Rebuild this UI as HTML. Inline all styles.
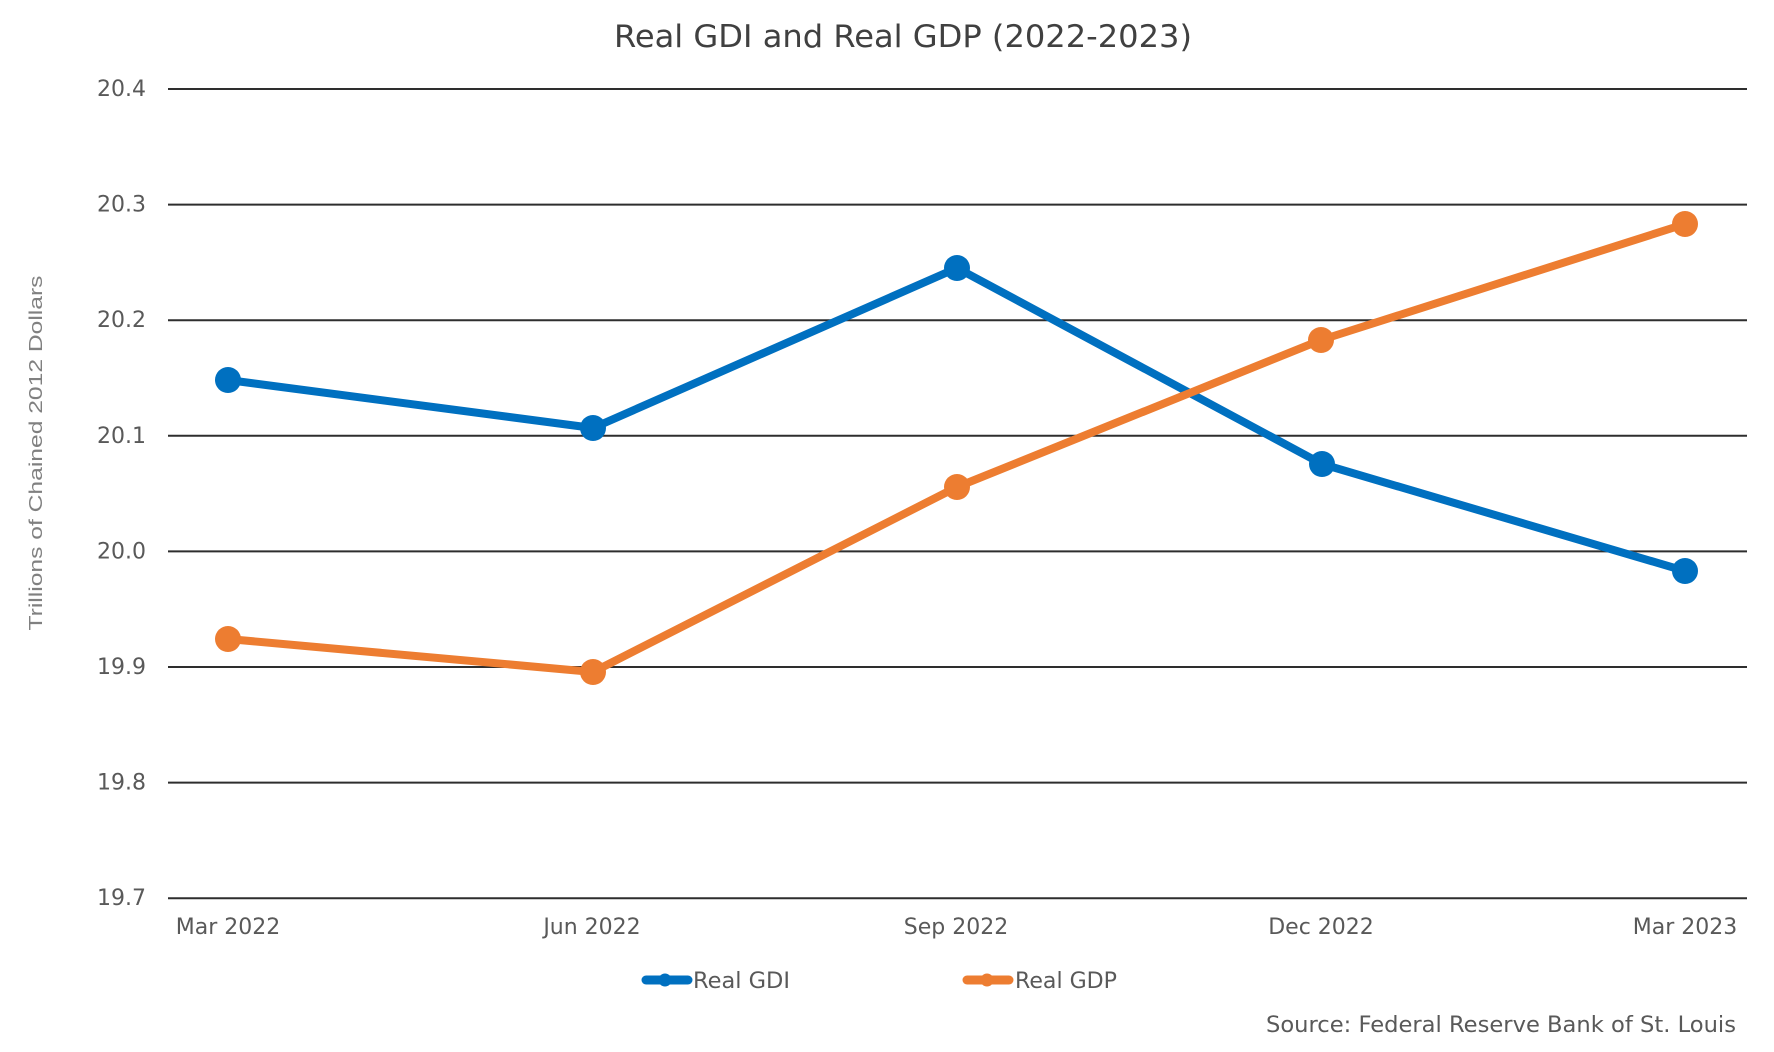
<!DOCTYPE html>
<html>
<head>
<meta charset="utf-8">
<style>
  html, body { margin: 0; padding: 0; background: #ffffff; }
  body { width: 1774px; height: 1052px; overflow: hidden; }
  svg { display: block; }
  .tick { font-family: "DejaVu Sans", "Liberation Sans", sans-serif; font-size: 22px; fill: #595959; }
</style>
</head>
<body>
<svg width="1774" height="1052" viewBox="0 0 1774 1052" xmlns="http://www.w3.org/2000/svg">
  <rect x="0" y="0" width="1774" height="1052" fill="#ffffff"/>

  <!-- Title -->
  <text x="903" y="47" text-anchor="middle" font-family="DejaVu Sans, Liberation Sans, sans-serif" font-size="31" fill="#404040" textLength="578" lengthAdjust="spacingAndGlyphs">Real GDI and Real GDP (2022-2023)</text>

  <!-- Gridlines -->
  <g stroke="#2e2e2e" stroke-width="2">
    <line x1="168" y1="89" x2="1747" y2="89"/>
    <line x1="168" y1="204.6" x2="1747" y2="204.6"/>
    <line x1="168" y1="320.2" x2="1747" y2="320.2"/>
    <line x1="168" y1="435.8" x2="1747" y2="435.8"/>
    <line x1="168" y1="551.4" x2="1747" y2="551.4"/>
    <line x1="168" y1="667" x2="1747" y2="667"/>
    <line x1="168" y1="782.6" x2="1747" y2="782.6"/>
    <line x1="168" y1="898.2" x2="1747" y2="898.2"/>
  </g>

  <!-- Y tick labels -->
  <g class="tick" text-anchor="end">
    <text x="146" y="96">20.4</text>
    <text x="146" y="211.6">20.3</text>
    <text x="146" y="327.2">20.2</text>
    <text x="146" y="442.8">20.1</text>
    <text x="146" y="558.4">20.0</text>
    <text x="146" y="674">19.9</text>
    <text x="146" y="789.6">19.8</text>
    <text x="146" y="905.2">19.7</text>
  </g>

  <!-- X tick labels -->
  <g class="tick" text-anchor="middle">
    <text x="228" y="934">Mar 2022</text>
    <text x="592" y="934">Jun 2022</text>
    <text x="956" y="934">Sep 2022</text>
    <text x="1321" y="934">Dec 2022</text>
    <text x="1685" y="934">Mar 2023</text>
  </g>

  <!-- Y axis title -->
  <text transform="translate(42,453) rotate(-90)" text-anchor="middle" font-family="Liberation Sans, Arial, sans-serif" font-size="18" fill="#808080" textLength="355" lengthAdjust="spacingAndGlyphs">Trillions  of Chained  2012  Dollars</text>

  <!-- Real GDI series -->
  <polyline points="228,380 593,428 957,268 1322,464 1685,571" fill="none" stroke="#0070C0" stroke-width="8" stroke-linejoin="round" stroke-linecap="round"/>
  <g fill="#0070C0">
    <circle cx="228" cy="380" r="13"/>
    <circle cx="593" cy="428" r="13"/>
    <circle cx="957" cy="268" r="13"/>
    <circle cx="1322" cy="464" r="13"/>
    <circle cx="1685" cy="571" r="13"/>
  </g>

  <!-- Real GDP series -->
  <polyline points="228,639 593,672 957,487 1321,340 1685,224" fill="none" stroke="#ED7D31" stroke-width="8" stroke-linejoin="round" stroke-linecap="round"/>
  <g fill="#ED7D31">
    <circle cx="228" cy="639" r="13"/>
    <circle cx="593" cy="672" r="13"/>
    <circle cx="957" cy="487" r="13"/>
    <circle cx="1321" cy="340" r="13"/>
    <circle cx="1685" cy="224" r="13"/>
  </g>

  <!-- Legend -->
  <line x1="646" y1="980" x2="688" y2="980" stroke="#0070C0" stroke-width="9" stroke-linecap="round"/>
  <circle cx="665" cy="980" r="6.5" fill="#0070C0"/>
  <text x="693" y="988" font-family="DejaVu Sans, Liberation Sans, sans-serif" font-size="22" fill="#595959" textLength="97" lengthAdjust="spacingAndGlyphs">Real GDI</text>

  <line x1="967" y1="980" x2="1009" y2="980" stroke="#ED7D31" stroke-width="9" stroke-linecap="round"/>
  <circle cx="987" cy="980" r="6.5" fill="#ED7D31"/>
  <text x="1015" y="988" font-family="DejaVu Sans, Liberation Sans, sans-serif" font-size="22" fill="#595959" textLength="102" lengthAdjust="spacingAndGlyphs">Real GDP</text>

  <!-- Source -->
  <text x="1736" y="1032" text-anchor="end" font-family="DejaVu Sans, Liberation Sans, sans-serif" font-size="22" fill="#595959" textLength="470" lengthAdjust="spacingAndGlyphs">Source: Federal Reserve Bank of St. Louis</text>
</svg>
</body>
</html>
